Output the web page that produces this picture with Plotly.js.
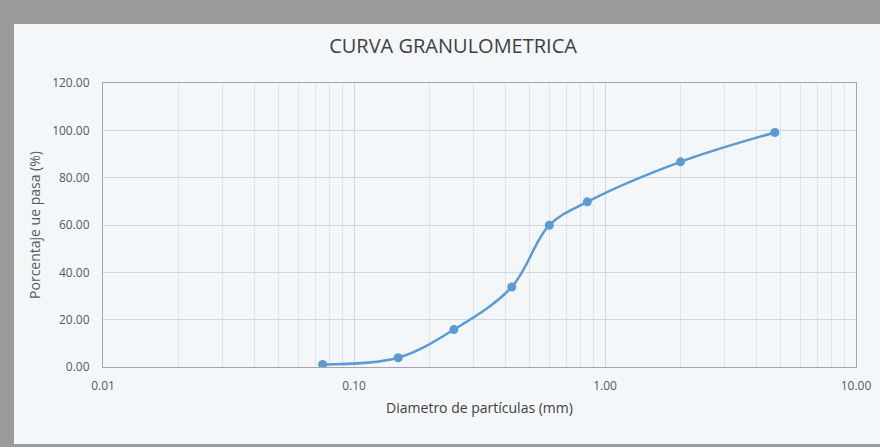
<!DOCTYPE html>
<html>
<head>
<meta charset="utf-8">
<script src="https://cdn.plot.ly/plotly-3.0.1.min.js"></script>
<style>
html,body{margin:0;padding:0;width:880px;height:447px;overflow:hidden;background:#9b9b9b;}
#chart{position:absolute;left:14px;top:24px;width:866px;height:420px;}
</style>
</head>
<body>
<div id="chart"></div>
<script>
const diameters = [0.075, 0.15, 0.25, 0.425, 0.6, 0.85, 2.0, 4.75];
const percentPassing = [1.1, 3.9, 15.8, 33.8, 59.9, 69.8, 86.7, 99.1];
const xTickVals = [0.01, 0.1, 1, 10];
const xTickText = ["0.01", "0.10", "1.00", "10.00"];
const yTickVals = [0, 20, 40, 60, 80, 100, 120];

const font = "Open Sans, Noto Sans, sans-serif";
const trace = {
  x: diameters, y: percentPassing, type: "scatter", mode: "lines+markers",
  line: {shape: "spline", smoothing: 1, color: "#5b9bd5", width: 2.5},
  marker: {size: 9, color: "#5b9bd5"},
  hoverinfo: "x+y"
};
const layout = {
  width: 866, height: 420,
  paper_bgcolor: "#f4f7fa", plot_bgcolor: "#f4f7fa",
  margin: {l: 89, r: 24, t: 59, b: 77},
  showlegend: false,
  title: {text: "CURVA GRANULOMETRICA", x: 0.507, xanchor: "center", y: 0.948, yanchor: "middle",
          font: {family: font, size: 20, color: "#404040"}},
  xaxis: {
    type: "log", range: [-2, 1], tickvals: xTickVals, ticktext: xTickText,
    showgrid: true, gridcolor: "#d2d5d9", gridwidth: 1,
    minor: {dtick: "D1", showgrid: true, gridcolor: "#e0e3e7", gridwidth: 1, ticks: ""},
    showline: true, linecolor: "#a6a6a6", mirror: true, linewidth: 1,
    zeroline: false, ticks: "outside", ticklen: 8, tickcolor: "rgba(0,0,0,0)",
    tickfont: {family: font, size: 12, color: "#595959"},
    title: {text: "Diametro de partículas (mm)", standoff: 9, font: {family: font, size: 14, color: "#404040"}}
  },
  yaxis: {
    range: [0, 120], tickvals: yTickVals, tickformat: ".2f",
    showgrid: true, gridcolor: "#d2d5d9", gridwidth: 1,
    showline: true, linecolor: "#a6a6a6", mirror: true, linewidth: 1,
    zeroline: false, ticks: "outside", ticklen: 10, tickcolor: "rgba(0,0,0,0)",
    tickfont: {family: font, size: 12, color: "#595959"},
    title: {text: "Porcentaje ue pasa (%)", standoff: 8, font: {family: font, size: 14, color: "#595959"}}
  }
};
Plotly.newPlot("chart", [trace], layout, {displayModeBar: false, staticPlot: true});
</script>
</body>
</html>
